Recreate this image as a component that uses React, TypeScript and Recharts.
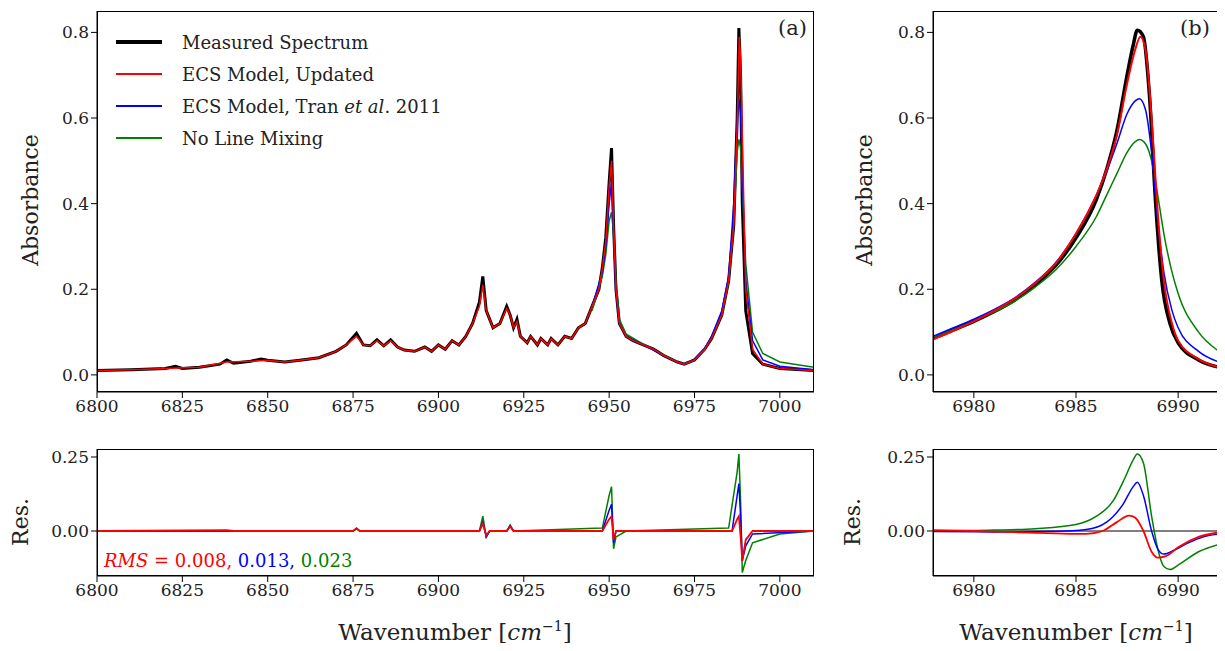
import React from 'react';
import { LineChart, Line, XAxis, YAxis, ReferenceLine } from 'recharts';

type P = { x: number; y: number };
const pts = (a: number[][]): P[] => a.map(([x, y]) => ({ x, y }));

// panel (a) spectrum
const measuredA = pts([
  [6800, 0.010], [6810, 0.012], [6820, 0.015], [6823, 0.02], [6825, 0.015], [6830, 0.018], [6836, 0.025], [6838, 0.035], [6840, 0.027],
  [6845, 0.032], [6848, 0.037], [6850, 0.034], [6855, 0.030], [6860, 0.035], [6865, 0.040], [6870, 0.055], [6873, 0.07],
  [6876, 0.097], [6878, 0.07], [6880, 0.068], [6882, 0.082], [6884, 0.068], [6886, 0.082], [6888, 0.065], [6890, 0.058],
  [6893, 0.055], [6896, 0.065], [6898, 0.055], [6900, 0.07], [6902, 0.06], [6904, 0.08], [6906, 0.07], [6908, 0.09],
  [6910, 0.12], [6912, 0.17], [6913, 0.23], [6914, 0.15], [6916, 0.11], [6918, 0.12], [6920, 0.16], [6921, 0.14],
  [6922, 0.11], [6923, 0.13], [6924, 0.09], [6926, 0.075], [6927, 0.09], [6929, 0.07], [6930, 0.085], [6932, 0.07],
  [6933, 0.085], [6935, 0.07], [6937, 0.09], [6939, 0.085], [6941, 0.11], [6943, 0.12], [6945, 0.16], [6947, 0.2],
  [6948, 0.25], [6949, 0.32], [6950, 0.45], [6950.7, 0.53], [6951.3, 0.35], [6952, 0.2], [6953, 0.12], [6955, 0.09],
  [6957, 0.08], [6960, 0.07], [6963, 0.06], [6966, 0.045], [6970, 0.03], [6972, 0.025], [6975, 0.035], [6978, 0.06],
  [6980, 0.085], [6983, 0.14], [6985, 0.22], [6986.5, 0.35], [6987.5, 0.6], [6988, 0.81], [6988.5, 0.7], [6989, 0.4],
  [6990, 0.15], [6992, 0.05], [6995, 0.025], [7000, 0.015], [7010, 0.01],
]);
const updatedA = pts([
  [6800, 0.010], [6810, 0.012], [6820, 0.015], [6830, 0.018], [6838, 0.03], [6845, 0.032], [6850, 0.034], [6855, 0.030], [6860, 0.035], [6865, 0.040], [6870, 0.055], [6873, 0.07],
  [6876, 0.09], [6878, 0.07], [6880, 0.068], [6882, 0.08], [6884, 0.068], [6886, 0.08], [6888, 0.065], [6890, 0.058],
  [6893, 0.055], [6896, 0.065], [6898, 0.055], [6900, 0.07], [6902, 0.06], [6904, 0.08], [6906, 0.07], [6908, 0.09],
  [6910, 0.12], [6912, 0.16], [6913, 0.21], [6914, 0.15], [6916, 0.11], [6918, 0.12], [6920, 0.155], [6921, 0.14],
  [6922, 0.11], [6923, 0.125], [6924, 0.09], [6926, 0.075], [6927, 0.09], [6929, 0.07], [6930, 0.085], [6932, 0.07],
  [6933, 0.085], [6935, 0.07], [6937, 0.09], [6939, 0.085], [6941, 0.11], [6943, 0.12], [6945, 0.16], [6947, 0.2],
  [6948, 0.25], [6949, 0.31], [6950, 0.44], [6950.7, 0.5], [6951.3, 0.35], [6952, 0.2], [6953, 0.12], [6955, 0.09],
  [6957, 0.08], [6960, 0.07], [6963, 0.06], [6966, 0.045], [6970, 0.03], [6972, 0.025], [6975, 0.035], [6978, 0.06],
  [6980, 0.085], [6983, 0.14], [6985, 0.22], [6986.5, 0.35], [6987.5, 0.58], [6988.1, 0.79], [6988.5, 0.74], [6989, 0.56],
  [6990, 0.2], [6992, 0.06], [6995, 0.025], [7000, 0.015], [7010, 0.01],
]);
const tranA = pts([
  [6945, 0.16], [6948, 0.24], [6949, 0.3], [6950, 0.4], [6950.7, 0.45], [6951.3, 0.33], [6952, 0.2], [6953, 0.12], [6955, 0.09],
  [6960, 0.07], [6966, 0.045], [6970, 0.03], [6972, 0.025], [6975, 0.036], [6978, 0.062], [6980, 0.09], [6983, 0.15],
  [6985, 0.23], [6986.5, 0.4], [6987.5, 0.6], [6988, 0.645], [6988.5, 0.61], [6989, 0.48], [6990, 0.22], [6992, 0.08],
  [6995, 0.035], [7000, 0.02], [7010, 0.012],
]);
const noMixA = pts([
  [6945, 0.15], [6948, 0.23], [6949, 0.28], [6950, 0.36], [6950.7, 0.38], [6951.3, 0.33], [6952, 0.22], [6953, 0.13], [6955, 0.095],
  [6960, 0.072], [6966, 0.046], [6970, 0.03], [6972, 0.025], [6975, 0.035], [6978, 0.06], [6980, 0.09], [6983, 0.14],
  [6985, 0.22], [6986.5, 0.36], [6987.5, 0.52], [6988, 0.55], [6988.5, 0.53], [6989, 0.44], [6990, 0.26], [6992, 0.1],
  [6995, 0.05], [7000, 0.03], [7010, 0.018],
]);

// panel (b) zoom on the 6988 peak
const measuredB = pts([[6978, 0.085], [6979, 0.105], [6980, 0.125], [6981, 0.148], [6982, 0.175], [6983, 0.21], [6984, 0.255], [6985, 0.32], [6986, 0.41], [6986.5, 0.48], [6987, 0.57], [6987.5, 0.7], [6987.8, 0.77], [6988, 0.805], [6988.3, 0.79], [6988.6, 0.65], [6988.9, 0.4], [6989.2, 0.22], [6989.6, 0.12], [6990, 0.075], [6991, 0.035], [6992, 0.018]]);
const updatedB = pts([[6978, 0.083], [6979, 0.103], [6980, 0.125], [6981, 0.15], [6982, 0.178], [6983, 0.214], [6984, 0.26], [6985, 0.33], [6986, 0.42], [6986.5, 0.48], [6987, 0.56], [6987.5, 0.68], [6987.9, 0.76], [6988.15, 0.79], [6988.4, 0.76], [6988.7, 0.6], [6989, 0.38], [6989.3, 0.22], [6989.7, 0.12], [6990, 0.08], [6991, 0.037], [6992, 0.018]]);
const tranB = pts([[6978, 0.09], [6979, 0.11], [6980, 0.13], [6981, 0.153], [6982, 0.18], [6983, 0.216], [6984, 0.262], [6985, 0.33], [6986, 0.42], [6986.5, 0.475], [6987, 0.54], [6987.5, 0.61], [6987.9, 0.64], [6988.1, 0.645], [6988.4, 0.62], [6988.7, 0.52], [6989, 0.36], [6989.3, 0.24], [6989.7, 0.15], [6990, 0.11], [6991, 0.055], [6992, 0.03]]);
const noMixB = pts([[6978, 0.088], [6979, 0.106], [6980, 0.126], [6981, 0.147], [6982, 0.172], [6983, 0.205], [6984, 0.245], [6985, 0.3], [6986, 0.37], [6986.5, 0.42], [6987, 0.47], [6987.5, 0.52], [6987.9, 0.545], [6988.1, 0.55], [6988.4, 0.54], [6988.7, 0.5], [6989, 0.42], [6989.3, 0.33], [6989.7, 0.24], [6990, 0.19], [6991, 0.1], [6992, 0.055]]);

// residuals (a)
const resRedA = pts([[6800, 0], [6838, 0.003], [6840, 0], [6875, 0], [6876, 0.008], [6877, 0], [6912, 0], [6913, 0.025], [6914, -0.015], [6915, 0], [6920, 0], [6921, 0.015], [6922, 0], [6948, 0], [6950, 0.04], [6950.7, 0.05], [6951.3, -0.03], [6952, 0], [6986, 0], [6987.5, 0.04], [6988, 0.05], [6988.5, -0.02], [6989, -0.1], [6990, -0.03], [6992, 0], [7010, 0]]);
const resBlueA = pts([[6800, 0], [6875, 0], [6876, 0.008], [6877, 0], [6912, 0], [6913, 0.03], [6914, -0.02], [6915, 0], [6920, 0], [6921, 0.018], [6922, 0], [6948, 0], [6950, 0.07], [6950.7, 0.09], [6951.3, -0.04], [6952, 0], [6986, 0], [6987.5, 0.12], [6988, 0.16], [6988.5, 0.05], [6989, -0.1], [6990, -0.05], [6992, -0.01], [7010, 0]]);
const resGreenA = pts([[6800, 0], [6875, 0], [6876, 0.01], [6877, 0], [6912, 0], [6913, 0.05], [6914, -0.02], [6915, 0], [6920, 0], [6921, 0.02], [6922, 0], [6948, 0.01], [6950, 0.12], [6950.7, 0.15], [6951.3, -0.06], [6952, -0.02], [6955, 0], [6985, 0.01], [6987.5, 0.2], [6988, 0.26], [6988.5, 0.1], [6989, -0.14], [6990, -0.1], [6992, -0.04], [7000, -0.01], [7010, 0]]);

// residuals (b)
const resRedB = pts([[6978, 0.003], [6980, 0], [6982, -0.004], [6984, -0.008], [6985.5, -0.01], [6986.3, 0], [6987, 0.03], [6987.6, 0.052], [6987.9, 0.045], [6988.3, 0.0], [6988.7, -0.07], [6989, -0.09], [6989.4, -0.085], [6990, -0.055], [6991, -0.02], [6992, -0.005]]);
const resBlueB = pts([[6978, -0.002], [6981, -0.003], [6984, -0.001], [6985.5, 0.005], [6986.5, 0.03], [6987.3, 0.09], [6987.8, 0.15], [6988, 0.165], [6988.3, 0.12], [6988.7, 0.0], [6989, -0.06], [6989.3, -0.078], [6989.8, -0.065], [6990.5, -0.04], [6991.2, -0.02], [6992, -0.01]]);
const resGreenB = pts([[6978, 0], [6981, 0.003], [6983, 0.008], [6985, 0.022], [6986, 0.05], [6986.8, 0.1], [6987.4, 0.18], [6987.8, 0.24], [6988, 0.26], [6988.3, 0.23], [6988.7, 0.05], [6989, -0.06], [6989.3, -0.12], [6989.6, -0.13], [6990, -0.115], [6991, -0.07], [6992, -0.045]]);

const ticksA = [6800, 6825, 6850, 6875, 6900, 6925, 6950, 6975, 7000];
const ticksB = [6980, 6985, 6990];
const absTicks = [0, 0.2, 0.4, 0.6, 0.8];
const resTicks = [0, 0.25];

const FONT = 'DejaVu Serif';
const tick = { fontSize: 17, fill: '#222', fontFamily: FONT };
const C = { black: '#000', red: '#ff0000', blue: '#0000ff', green: '#008000' };

type S = { data: P[]; color: string; w: number };

function Panel(props: {
  left: number; top: number; width: number; height: number; marginLeft: number; marginRight: number; marginTop: number; xh: number;
  xDomain: number[]; xTicks: number[]; yDomain: number[]; yTicks: number[]; yFmt: (v: number) => string; series: S[]; zero?: boolean; curve: 'linear' | 'monotone';
}) {
  const { left, top, width, height, marginLeft, marginRight, marginTop, xh } = props;
  return (
    <div style={{ position: 'absolute', left, top }}>
      <LineChart width={width} height={height} margin={{ top: marginTop, right: marginRight, left: marginLeft, bottom: 0 }}>
        <XAxis type="number" dataKey="x" domain={props.xDomain} ticks={props.xTicks} allowDataOverflow height={xh}
          tick={tick} stroke="#000" tickSize={6} />
        <YAxis type="number" dataKey="y" domain={props.yDomain} ticks={props.yTicks} allowDataOverflow width={60}
          tick={tick} stroke="#000" tickSize={6} tickFormatter={props.yFmt} />
        {props.zero && <ReferenceLine y={0} stroke="#000" strokeWidth={1.2} />}
        {props.series.map((s, i) => (
          <Line key={i} data={s.data} dataKey="y" type={props.curve} stroke={s.color} strokeWidth={s.w} dot={false} isAnimationActive={false} />
        ))}
      </LineChart>
      <div style={{ position: 'absolute', left: marginLeft + 60, top: marginTop, width: width - marginLeft - 60 - marginRight, height: height - marginTop - xh, border: '1.5px solid #000', boxSizing: 'border-box', pointerEvents: 'none' }} />
    </div>
  );
}

const legend = [
  { label: 'Measured Spectrum', color: C.black, w: 4 },
  { label: 'ECS Model, Updated', color: C.red, w: 2 },
  { label: 'ECS Model, Tran et al. 2011', color: C.blue, w: 2 },
  { label: 'No Line Mixing', color: C.green, w: 2 },
];

const txt: React.CSSProperties = { position: 'absolute', fontFamily: FONT, color: '#222', whiteSpace: 'nowrap' };

export default function App() {
  const f1 = (v: number) => v.toFixed(1);
  const f2 = (v: number) => v.toFixed(2);
  return (
    <div style={{ position: 'relative', width: 1225, height: 651, margin: -8, background: '#fff', overflow: 'hidden' }}>
      <Panel left={0} top={0} width={830} height={432} marginLeft={37} marginRight={16} marginTop={11} xh={40} curve="linear"
        xDomain={[6800, 7010]} xTicks={ticksA} yDomain={[-0.04, 0.85]} yTicks={absTicks} yFmt={f1}
        series={[{ data: measuredA, color: C.black, w: 3 }, { data: noMixA, color: C.green, w: 1.5 }, { data: tranA, color: C.blue, w: 1.5 }, { data: updatedA, color: C.red, w: 1.5 }]} />
      <Panel left={873} top={0} width={352} height={432} marginLeft={0} marginRight={6} marginTop={11} xh={40} curve="monotone"
        xDomain={[6978, 6992]} xTicks={ticksB} yDomain={[-0.04, 0.85]} yTicks={absTicks} yFmt={f1}
        series={[{ data: measuredB, color: C.black, w: 3.5 }, { data: noMixB, color: C.green, w: 1.5 }, { data: tranB, color: C.blue, w: 1.5 }, { data: updatedB, color: C.red, w: 2 }]} />
      <Panel left={0} top={440} width={830} height={179} marginLeft={37} marginRight={16} marginTop={9} xh={43} curve="linear"
        xDomain={[6800, 7010]} xTicks={ticksA} yDomain={[-0.152, 0.277]} yTicks={resTicks} yFmt={f2}
        series={[{ data: resGreenA, color: C.green, w: 1.5 }, { data: resBlueA, color: C.blue, w: 1.5 }, { data: resRedA, color: C.red, w: 1.8 }]} />
      <Panel left={873} top={440} width={352} height={179} marginLeft={0} marginRight={6} marginTop={9} xh={43} zero curve="monotone"
        xDomain={[6978, 6992]} xTicks={ticksB} yDomain={[-0.152, 0.277]} yTicks={resTicks} yFmt={f2}
        series={[{ data: resGreenB, color: C.green, w: 1.5 }, { data: resBlueB, color: C.blue, w: 1.5 }, { data: resRedB, color: C.red, w: 1.8 }]} />

      <div style={{ ...txt, left: 30, top: 200, fontSize: 22, transform: 'translate(-50%,-50%) rotate(-90deg)' }}>Absorbance</div>
      <div style={{ ...txt, left: 864, top: 200, fontSize: 22, transform: 'translate(-50%,-50%) rotate(-90deg)' }}>Absorbance</div>
      <div style={{ ...txt, left: 20, top: 522, fontSize: 22, transform: 'translate(-50%,-50%) rotate(-90deg)' }}>Res.</div>
      <div style={{ ...txt, left: 852, top: 522, fontSize: 22, transform: 'translate(-50%,-50%) rotate(-90deg)' }}>Res.</div>
      <div style={{ ...txt, left: 455, top: 618, fontSize: 23, transform: 'translateX(-50%)' }}>Wavenumber [<i>cm</i><sup style={{ fontSize: 14 }}>−1</sup>]</div>
      <div style={{ ...txt, left: 1076, top: 618, fontSize: 23, transform: 'translateX(-50%)' }}>Wavenumber [<i>cm</i><sup style={{ fontSize: 14 }}>−1</sup>]</div>
      <div style={{ ...txt, left: 778, top: 16, fontSize: 21 }}>(a)</div>
      <div style={{ ...txt, left: 1180, top: 16, fontSize: 21 }}>(b)</div>
      <div style={{ ...txt, left: 104, top: 550, fontSize: 18 }}>
        <span style={{ color: C.red }}><i>RMS</i> = 0.008, </span>
        <span style={{ color: C.blue }}>0.013, </span>
        <span style={{ color: C.green }}>0.023</span>
      </div>
      <div style={{ position: 'absolute', left: 116, top: 26 }}>
        {legend.map((l, i) => (
          <div key={i} style={{ display: 'flex', alignItems: 'center', height: 32 }}>
            <div style={{ width: 46, height: l.w, background: l.color, marginRight: 20 }} />
            <span style={{ fontFamily: FONT, fontSize: 18, color: '#222' }}>
              {i === 2 ? <>ECS Model, Tran <i>et al</i>. 2011</> : l.label}
            </span>
          </div>
        ))}
      </div>
    </div>
  );
}
